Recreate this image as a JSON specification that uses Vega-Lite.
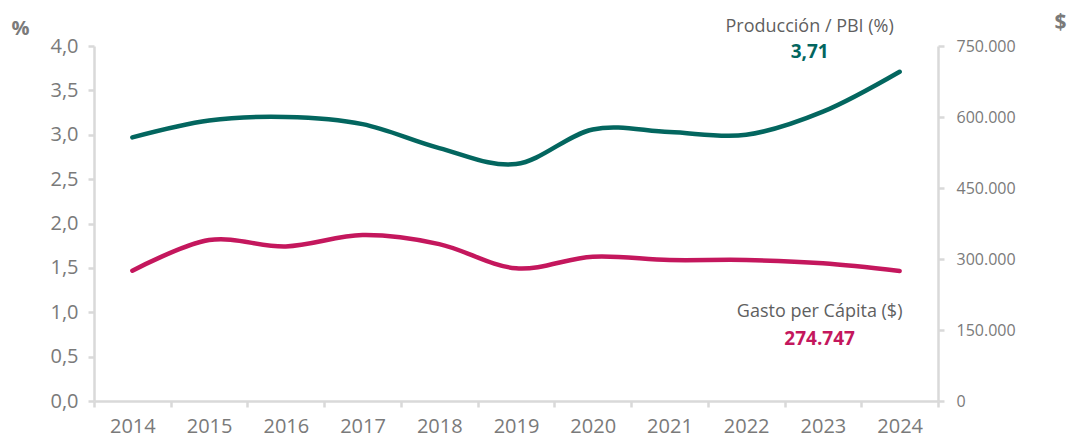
{
  "$schema": "https://vega.github.io/schema/vega-lite/v6.json",
  "width": 844,
  "height": 355,
  "autosize": {"type": "none"},
  "padding": {"left": 94, "top": 46, "right": 129, "bottom": 40},
  "data": {
    "values": [
      {"year": "2014", "pct": 2.97, "gasto": 275300},
      {"year": "2015", "pct": 3.16, "gasto": 340000},
      {"year": "2016", "pct": 3.20, "gasto": 326500},
      {"year": "2017", "pct": 3.12, "gasto": 350500},
      {"year": "2018", "pct": 2.85, "gasto": 331500},
      {"year": "2019", "pct": 2.67, "gasto": 280300},
      {"year": "2020", "pct": 3.06, "gasto": 304900},
      {"year": "2021", "pct": 3.03, "gasto": 297900},
      {"year": "2022", "pct": 3.00, "gasto": 297900},
      {"year": "2023", "pct": 3.26, "gasto": 290900},
      {"year": "2024", "pct": 3.71, "gasto": 274747}
    ]
  },
  "encoding": {
    "x": {
      "field": "year",
      "type": "ordinal",
      "scale": {"type": "band", "paddingInner": 0, "paddingOuter": 0},
      "axis": {
        "title": null,
        "labelAngle": 0,
        "tickBand": "extent",
        "domainColor": "#d9d9d9",
        "domainWidth": 2.5,
        "tickColor": "#d9d9d9",
        "tickWidth": 2.5,
        "tickSize": 6,
        "labelFontSize": 20,
        "labelColor": "#7a7a7a",
        "labelPadding": 9
      }
    }
  },
  "layer": [
    {
      "encoding": {
        "y": {
          "field": "pct",
          "type": "quantitative",
          "scale": {"domain": [0, 4], "nice": false},
          "axis": {
            "orient": "left",
            "values": [0, 0.5, 1, 1.5, 2, 2.5, 3, 3.5, 4],
            "format": ".1f",
            "grid": false,
            "domainColor": "#d9d9d9",
            "domainWidth": 2.5,
            "tickColor": "#d9d9d9",
            "tickWidth": 2.5,
            "tickSize": 6,
            "labelFontSize": 20,
            "labelColor": "#7a7a7a",
            "labelPadding": 10,
            "title": "%",
            "titleAngle": 0,
            "titleX": -74,
            "titleY": -18,
            "titleAlign": "center",
            "titleBaseline": "middle",
            "titleFontSize": 20,
            "titleFontWeight": "bold",
            "titleColor": "#7a7a7a"
          }
        }
      },
      "layer": [
        {
          "mark": {"type": "line", "interpolate": "cardinal", "color": "#03665f", "strokeWidth": 4.5, "strokeCap": "round"}
        },
        {
          "transform": [{"filter": "datum.year == '2024'"}],
          "mark": {"type": "text", "text": "Producción / PBI (%)", "dx": -90, "dy": -45, "align": "center", "baseline": "middle", "fontSize": 18, "color": "#5f5f5f"}
        },
        {
          "transform": [{"filter": "datum.year == '2024'"}],
          "mark": {"type": "text", "dx": -90, "dy": -20, "align": "center", "baseline": "middle", "fontSize": 19, "fontWeight": "bold", "color": "#03665f"},
          "encoding": {"text": {"field": "pct", "type": "quantitative", "format": ".2f"}}
        }
      ]
    },
    {
      "encoding": {
        "y": {
          "field": "gasto",
          "type": "quantitative",
          "scale": {"domain": [0, 750000], "nice": false},
          "axis": {
            "orient": "right",
            "values": [0, 150000, 300000, 450000, 600000, 750000],
            "format": ",.0f",
            "grid": false,
            "domainColor": "#d9d9d9",
            "domainWidth": 2.5,
            "tickColor": "#d9d9d9",
            "tickWidth": 2.5,
            "tickSize": 6,
            "labelFontSize": 16,
            "labelColor": "#7a7a7a",
            "labelPadding": 12,
            "title": "$",
            "titleAngle": 0,
            "titleX": 122,
            "titleY": -24,
            "titleAlign": "center",
            "titleBaseline": "middle",
            "titleFontSize": 21,
            "titleFontWeight": "bold",
            "titleColor": "#7a7a7a"
          }
        }
      },
      "layer": [
        {
          "mark": {"type": "line", "interpolate": "cardinal", "color": "#c4175d", "strokeWidth": 4.5, "strokeCap": "round"}
        },
        {
          "transform": [{"filter": "datum.year == '2024'"}],
          "mark": {"type": "text", "text": "Gasto per Cápita ($)", "dx": -80, "dy": 41, "align": "center", "baseline": "middle", "fontSize": 18, "color": "#5f5f5f"}
        },
        {
          "transform": [{"filter": "datum.year == '2024'"}],
          "mark": {"type": "text", "dx": -80, "dy": 68, "align": "center", "baseline": "middle", "fontSize": 19, "fontWeight": "bold", "color": "#c4175d"},
          "encoding": {"text": {"field": "gasto", "type": "quantitative", "format": ",.0f"}}
        }
      ]
    }
  ],
  "resolve": {"scale": {"y": "independent"}},
  "config": {
    "view": {"stroke": null},
    "font": "Open Sans",
    "locale": {
      "number": {"decimal": ",", "thousands": ".", "grouping": [3], "currency": ["$", ""]}
    }
  }
}
